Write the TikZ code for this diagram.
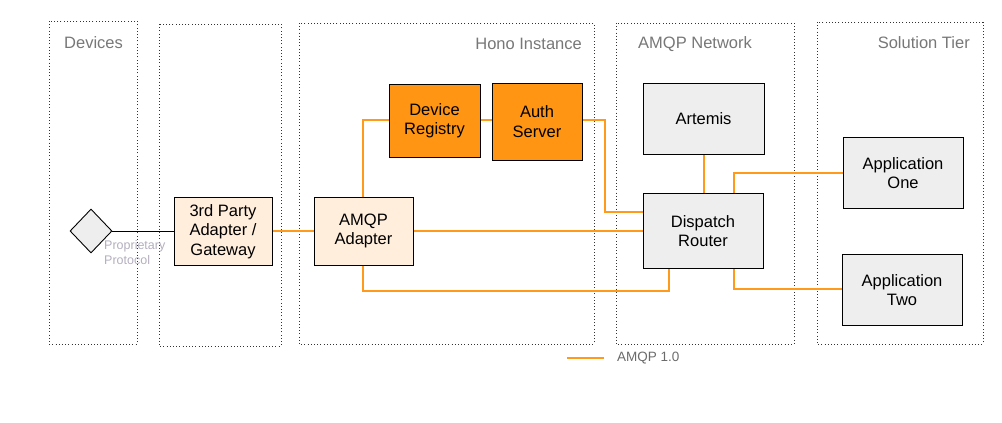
\documentclass[tikz,border=0pt]{standalone}
\usepackage{fontspec}
\setmainfont{Liberation Sans}
\usetikzlibrary{shapes.geometric}
\definecolor{amqp}{HTML}{FF9A1A}
\definecolor{boxorange}{HTML}{FF9512}
\definecolor{boxlight}{HTML}{FFEEDC}
\definecolor{boxgray}{HTML}{EEEEEE}
\definecolor{lanetext}{HTML}{777777}
\definecolor{protext}{HTML}{B4AEBE}
\begin{document}
\begin{tikzpicture}[x=1pt,y=-1pt,
  lane/.style={draw=black!80, dash pattern=on 1pt off 2.2pt, line width=0.8pt},
  lanelabel/.style={text=lanetext, font=\fontsize{16.5}{19}\selectfont, inner sep=0pt},
  comp/.style={draw=black, line width=1pt, align=center, inner sep=0pt, font=\fontsize{16.5}{19.5}\selectfont},
  lightbox/.style={comp, fill=boxlight},
  orangebox/.style={comp, fill=boxorange},
  graybox/.style={comp, fill=boxgray},
  link/.style={draw=amqp, line width=1.5pt},
  plain/.style={draw=black, line width=1pt}]
\useasboundingbox (0,0) rectangle (1002,423);
% lanes
\draw[lane] (49,21) rectangle (137,344);
\draw[lane] (159,24) rectangle (281,346);
\draw[lane] (299,23) rectangle (594,344);
\draw[lane] (616,23) rectangle (794,344);
\draw[lane] (817,22) rectangle (983,344);
\node[lanelabel, anchor=west] (lDev) at (64,43) {Devices};
\node[lanelabel, anchor=east] (lHono) at (582,44) {Hono Instance};
\node[lanelabel, anchor=west] (lNet) at (638,44) {AMQP Network};
\node[lanelabel, anchor=east] (lSol) at (970,43) {Solution Tier};
% nodes
\node[diamond, draw=black, fill=boxgray, line width=0.9pt, minimum width=42pt, minimum height=44pt, inner sep=0pt] (dev) at (91,231) {};
\node[lightbox, minimum width=98pt, minimum height=68pt] (gw) at (223,231.5) {3rd Party\\Adapter /\\Gateway};
\node[lightbox, minimum width=99pt, minimum height=68pt] (ad) at (363.5,231) {AMQP\\Adapter};
\node[orangebox, minimum width=91pt, minimum height=73pt] (reg) at (434.5,120.5) {Device\\Registry};
\node[orangebox, minimum width=90pt, minimum height=77pt] (auth) at (537,121.5) {Auth\\Server};
\node[graybox, minimum width=121pt, minimum height=71pt] (art) at (703.5,119) {Artemis};
\node[graybox, minimum width=120pt, minimum height=75pt] (disp) at (703,231) {Dispatch\\Router};
\node[graybox, minimum width=120pt, minimum height=71pt] (app1) at (903,173) {Application\\One};
\node[graybox, minimum width=120pt, minimum height=71pt] (app2) at (902,290) {Application\\Two};
\node[text=protext, anchor=north west, align=left, inner sep=0pt, font=\fontsize{12.5}{15}\selectfont] (prot) at (104,240) {Proprietary\\Protocol};
% connectors
\draw[plain] (dev.east) -- (gw.west |- dev.east);
\draw[link] (gw.east |- 0,231) -- (ad.west |- 0,231);
\draw[link] (ad.east |- 0,231) -- (disp.west |- 0,231);
\draw[link] (ad.north -| 363,0) -- (363,120) -- (reg.west |- 0,120);
\draw[link] (reg.east |- 0,120) -- (auth.west |- 0,120);
\draw[link] (auth.east |- 0,120) -- (605,120) -- (605,212) -- (disp.west |- 0,212);
\draw[link] (ad.south -| 363,0) -- (363,291) -- (669,291) -- (disp.south -| 669,0);
\draw[link] (art.south -| 704,0) -- (disp.north -| 704,0);
\draw[link] (disp.north -| 734,0) -- (734,173) -- (app1.west |- 0,173);
\draw[link] (disp.south -| 734,0) -- (734,289) -- (app2.west |- 0,289);
% legend
\coordinate (legA) at (567,358);
\coordinate (legB) at (604,358);
\draw[link] (legA) -- (legB);
\node[text=lanetext!90!black, anchor=west, inner sep=0pt, font=\fontsize{13.5}{16}\selectfont] (legT) at (617,358) {AMQP 1.0};
\end{tikzpicture}
\end{document}
